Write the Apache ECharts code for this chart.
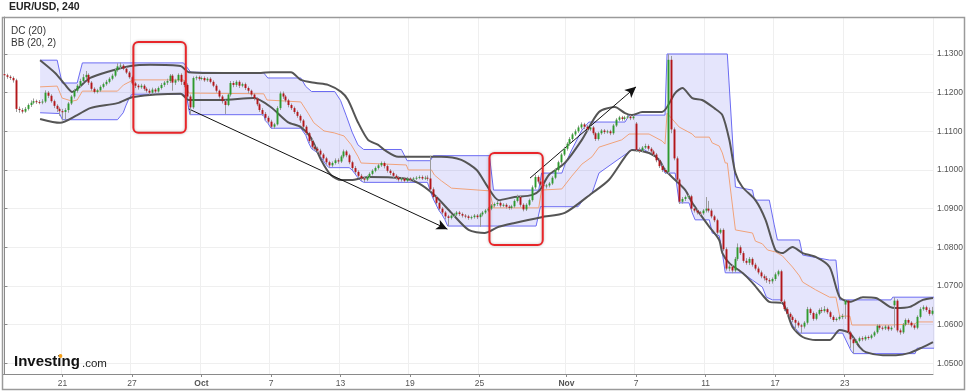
<!DOCTYPE html>
<html><head><meta charset="utf-8">
<script src="https://cdn.jsdelivr.net/npm/echarts@6/dist/echarts.min.js"></script>
<style>html,body{margin:0;padding:0;background:#fff}#c{width:966px;height:392px}</style>
</head><body><div id="c"></div><script>
// ---------- DATA ----------
const tradingDays = ['09-15','09-16','09-19','09-20','09-21','09-22','09-23','09-26','09-27','09-28','09-29','09-30',
 '10-03','10-04','10-05','10-06','10-07','10-10','10-11','10-12','10-13','10-14','10-17','10-18','10-19','10-20','10-21',
 '10-24','10-25','10-26','10-27','10-28','10-31','11-01','11-02','11-03','11-04','11-07','11-08','11-09','11-10','11-11',
 '11-14','11-15','11-16','11-17','11-18','11-21','11-22','11-23','11-24','11-25','11-28','11-29','11-30'];
const candleHours = ['00','04','08','12','16','20'];
const xTickCats = ['09-21 00','09-27 00','10-03 00','10-07 00','10-13 00','10-19 00','10-25 00','11-01 00','11-07 00','11-11 00','11-17 00','11-23 00'];
const xTickLabels = ['21','27','Oct','7','13','19','25','Nov','7','11','17','23'];
const yTickValues = [1.05,1.06,1.07,1.08,1.09,1.10,1.11,1.12,1.13];
const lastPrice = 1.0636;

// [open, close, low, high]
const ohlc = [
[1.1248,1.1245,1.1240,1.1252],[1.1245,1.1241,1.1236,1.1249],[1.1241,1.1238,1.1233,1.1245],[1.1238,1.1232,1.1226,1.1242],
[1.1232,1.1158,1.1150,1.1236],[1.1158,1.1155,1.1148,1.1164],[1.1155,1.1151,1.1146,1.1160],[1.1151,1.1158,1.1148,1.1163],
[1.1158,1.1168,1.1154,1.1172],[1.1168,1.1174,1.1163,1.1180],[1.1174,1.1178,1.1170,1.1185],[1.1178,1.1176,1.1171,1.1182],
[1.1176,1.1175,1.1170,1.1181],[1.1175,1.1177,1.1170,1.1183],[1.1177,1.1200,1.1173,1.1206],[1.1200,1.1192,1.1186,1.1204],
[1.1192,1.1178,1.1174,1.1196],[1.1178,1.1166,1.1160,1.1182],[1.1166,1.1158,1.1150,1.1170],[1.1158,1.1152,1.1140,1.1162],
[1.1152,1.1150,1.1128,1.1158],[1.1150,1.1155,1.1130,1.1160],[1.1155,1.1172,1.1148,1.1176],[1.1172,1.1190,1.1168,1.1194],
[1.1190,1.1205,1.1185,1.1210],[1.1205,1.1218,1.1200,1.1222],[1.1218,1.1230,1.1214,1.1236],[1.1230,1.1240,1.1226,1.1248],
[1.1240,1.1246,1.1235,1.1256],[1.1246,1.1226,1.1220,1.1250],[1.1226,1.1210,1.1205,1.1230],[1.1210,1.1202,1.1198,1.1214],
[1.1202,1.1206,1.1198,1.1210],[1.1206,1.1215,1.1202,1.1219],[1.1215,1.1222,1.1211,1.1226],[1.1222,1.1228,1.1218,1.1233],
[1.1228,1.1236,1.1224,1.1240],[1.1236,1.1244,1.1232,1.1249],[1.1244,1.1258,1.1240,1.1262],[1.1258,1.1268,1.1254,1.1276],
[1.1268,1.1270,1.1262,1.1278],[1.1270,1.1262,1.1258,1.1274],[1.1262,1.1252,1.1248,1.1266],[1.1252,1.1240,1.1236,1.1256],
[1.1240,1.1224,1.1220,1.1244],[1.1224,1.1218,1.1212,1.1228],[1.1218,1.1214,1.1208,1.1222],[1.1214,1.1218,1.1210,1.1223],
[1.1218,1.1210,1.1205,1.1222],[1.1210,1.1205,1.1200,1.1214],[1.1205,1.1200,1.1195,1.1210],[1.1200,1.1208,1.1196,1.1213],
[1.1208,1.1203,1.1198,1.1212],[1.1203,1.1212,1.1200,1.1216],[1.1212,1.1220,1.1208,1.1225],[1.1220,1.1226,1.1215,1.1230],
[1.1226,1.1230,1.1220,1.1236],[1.1230,1.1244,1.1225,1.1248],[1.1244,1.1226,1.1205,1.1248],[1.1226,1.1232,1.1220,1.1236],
[1.1232,1.1246,1.1228,1.1250],[1.1246,1.1228,1.1220,1.1250],[1.1228,1.1220,1.1214,1.1232],[1.1220,1.1190,1.1185,1.1224],
[1.1190,1.1162,1.1143,1.1195],[1.1162,1.1238,1.1158,1.1242],[1.1238,1.1240,1.1232,1.1244],[1.1240,1.1236,1.1231,1.1244],
[1.1236,1.1238,1.1232,1.1242],[1.1238,1.1232,1.1228,1.1242],[1.1232,1.1236,1.1228,1.1240],[1.1236,1.1228,1.1224,1.1240],
[1.1228,1.1218,1.1214,1.1232],[1.1218,1.1205,1.1200,1.1222],[1.1205,1.1190,1.1185,1.1208],[1.1190,1.1178,1.1172,1.1194],
[1.1178,1.1168,1.1145,1.1182],[1.1168,1.1195,1.1165,1.1198],[1.1195,1.1225,1.1190,1.1230],[1.1225,1.1220,1.1214,1.1230],
[1.1220,1.1228,1.1215,1.1232],[1.1228,1.1218,1.1212,1.1232],[1.1218,1.1222,1.1214,1.1226],[1.1222,1.1212,1.1207,1.1226],
[1.1212,1.1205,1.1198,1.1216],[1.1205,1.1195,1.1190,1.1208],[1.1195,1.1185,1.1180,1.1198],[1.1185,1.1170,1.1165,1.1188],
[1.1170,1.1155,1.1150,1.1174],[1.1155,1.1145,1.1140,1.1160],[1.1145,1.1135,1.1128,1.1150],[1.1135,1.1125,1.1120,1.1140],
[1.1125,1.1112,1.1108,1.1130],[1.1112,1.1118,1.1106,1.1122],[1.1118,1.1160,1.1115,1.1165],[1.1160,1.1198,1.1155,1.1203],
[1.1198,1.1190,1.1184,1.1203],[1.1190,1.1180,1.1175,1.1194],[1.1180,1.1168,1.1162,1.1184],[1.1168,1.1160,1.1155,1.1172],
[1.1160,1.1150,1.1145,1.1164],[1.1150,1.1140,1.1135,1.1154],[1.1140,1.1128,1.1122,1.1144],[1.1128,1.1112,1.1108,1.1132],
[1.1112,1.1095,1.1090,1.1116],[1.1095,1.1075,1.1070,1.1098],[1.1075,1.1060,1.1055,1.1080],[1.1060,1.1055,1.1050,1.1064],
[1.1055,1.1050,1.1045,1.1060],[1.1050,1.1040,1.1035,1.1055],[1.1040,1.1030,1.1025,1.1044],[1.1030,1.1020,1.1014,1.1034],
[1.1020,1.1012,1.1006,1.1024],[1.1012,1.1018,1.1008,1.1022],[1.1018,1.1025,1.1014,1.1030],[1.1025,1.1022,1.1016,1.1030],
[1.1022,1.1035,1.1018,1.1039],[1.1035,1.1048,1.1030,1.1053],[1.1048,1.1038,1.1033,1.1052],[1.1038,1.1020,1.1015,1.1042],
[1.1020,1.1005,1.1000,1.1024],[1.1005,1.0995,1.0990,1.1010],[1.0995,1.0985,1.0980,1.0999],[1.0985,1.0978,1.0972,1.0990],
[1.0978,1.0975,1.0968,1.0982],[1.0975,1.0982,1.0971,1.0986],[1.0982,1.0990,1.0978,1.0994],[1.0990,1.0998,1.0986,1.1002],
[1.0998,1.1005,1.0994,1.1009],[1.1005,1.1012,1.1001,1.1016],[1.1012,1.1018,1.1008,1.1022],[1.1018,1.1010,1.1004,1.1022],
[1.1010,1.0998,1.0993,1.1014],[1.0998,1.0992,1.0987,1.1002],[1.0992,1.0985,1.0980,1.0996],[1.0985,1.0980,1.0975,1.0989],
[1.0980,1.0975,1.0970,1.0984],[1.0975,1.0978,1.0970,1.0982],[1.0978,1.0972,1.0967,1.0982],[1.0972,1.0978,1.0968,1.0982],
[1.0978,1.0975,1.0970,1.0981],[1.0975,1.0978,1.0971,1.0982],[1.0978,1.0980,1.0974,1.0984],[1.0980,1.0982,1.0976,1.0986],
[1.0982,1.0978,1.0974,1.0986],[1.0978,1.0980,1.0974,1.0985],[1.0980,1.0978,1.0972,1.0986],[1.0978,1.0950,1.0945,1.1037],
[1.0950,1.0930,1.0925,1.0955],[1.0930,1.0915,1.0910,1.0934],[1.0915,1.0900,1.0895,1.0918],[1.0900,1.0890,1.0885,1.0904],
[1.0890,1.0880,1.0872,1.0894],[1.0880,1.0876,1.0855,1.0884],[1.0876,1.0882,1.0872,1.0886],[1.0882,1.0885,1.0878,1.0889],
[1.0885,1.0890,1.0881,1.0894],[1.0890,1.0886,1.0881,1.0894],[1.0886,1.0882,1.0877,1.0890],[1.0882,1.0880,1.0875,1.0886],
[1.0880,1.0876,1.0871,1.0884],[1.0876,1.0878,1.0872,1.0882],[1.0878,1.0882,1.0874,1.0886],[1.0882,1.0878,1.0873,1.0886],
[1.0878,1.0885,1.0853,1.0889],[1.0885,1.0890,1.0880,1.0894],[1.0890,1.0895,1.0886,1.0899],[1.0895,1.0900,1.0891,1.0904],
[1.0900,1.0908,1.0896,1.0912],[1.0908,1.0912,1.0903,1.0916],[1.0912,1.0915,1.0907,1.0920],[1.0915,1.0908,1.0903,1.0919],
[1.0908,1.0910,1.0904,1.0914],[1.0910,1.0905,1.0900,1.0914],[1.0905,1.0902,1.0897,1.0909],[1.0902,1.0906,1.0898,1.0910],
[1.0906,1.0920,1.0902,1.0924],[1.0920,1.0930,1.0916,1.0936],[1.0930,1.0910,1.0905,1.0934],[1.0910,1.0898,1.0893,1.0914],
[1.0898,1.0910,1.0894,1.0914],[1.0910,1.0922,1.0906,1.0926],[1.0922,1.0955,1.0918,1.0960],[1.0955,1.0982,1.0950,1.0988],
[1.0982,1.0970,1.0965,1.0986],[1.0970,1.0962,1.0957,1.0974],[1.0962,1.0958,1.0953,1.0966],[1.0958,1.0960,1.0952,1.0964],
[1.0960,1.0965,1.0955,1.0969],[1.0965,1.0980,1.0961,1.0984],[1.0980,1.1000,1.0976,1.1004],[1.1000,1.1020,1.0996,1.1024],
[1.1020,1.1040,1.1016,1.1044],[1.1040,1.1055,1.1036,1.1060],[1.1055,1.1068,1.1050,1.1072],[1.1068,1.1080,1.1063,1.1085],
[1.1080,1.1092,1.1076,1.1096],[1.1092,1.1100,1.1088,1.1105],[1.1100,1.1110,1.1096,1.1115],[1.1110,1.1118,1.1105,1.1123],
[1.1118,1.1112,1.1106,1.1122],[1.1112,1.1105,1.1100,1.1116],[1.1105,1.1110,1.1101,1.1114],[1.1110,1.1095,1.1090,1.1114],
[1.1095,1.1080,1.1075,1.1098],[1.1080,1.1095,1.1076,1.1099],[1.1095,1.1102,1.1091,1.1106],[1.1102,1.1098,1.1093,1.1106],
[1.1098,1.1100,1.1094,1.1104],[1.1100,1.1095,1.1090,1.1104],[1.1095,1.1115,1.1091,1.1119],[1.1115,1.1130,1.1111,1.1134],
[1.1130,1.1136,1.1126,1.1140],[1.1136,1.1132,1.1127,1.1140],[1.1132,1.1136,1.1128,1.1140],[1.1136,1.1138,1.1132,1.1142],
[1.1138,1.1134,1.1129,1.1142],[1.1134,1.1138,1.1130,1.1142],[1.1120,1.1052,1.1047,1.1124],[1.1052,1.1050,1.1044,1.1058],
[1.1050,1.1058,1.1046,1.1062],[1.1058,1.1062,1.1054,1.1068],[1.1062,1.1055,1.1050,1.1066],[1.1055,1.1048,1.1043,1.1059],
[1.1048,1.1040,1.1035,1.1052],[1.1040,1.1025,1.1020,1.1044],[1.1025,1.1010,1.1005,1.1029],[1.1010,1.1000,1.0995,1.1014],
[1.1000,1.0995,1.0990,1.1004],[1.0995,1.1285,1.0990,1.1300],[1.1285,1.1105,1.1095,1.1295],[1.1105,1.1030,1.1025,1.1110],
[1.1030,1.0975,1.0970,1.1035],[1.0975,1.0918,1.0912,1.0978],[1.0918,1.0925,1.0913,1.0930],[1.0925,1.0930,1.0920,1.0934],
[1.0930,1.0932,1.0925,1.0936],[1.0932,1.0900,1.0895,1.0936],[1.0900,1.0895,1.0890,1.0904],[1.0895,1.0890,1.0885,1.0899],
[1.0890,1.0888,1.0883,1.0894],[1.0888,1.0895,1.0884,1.0899],[1.0895,1.0900,1.0890,1.0930],[1.0900,1.0895,1.0890,1.0920],
[1.0895,1.0880,1.0875,1.0900],[1.0880,1.0870,1.0865,1.0884],[1.0870,1.0838,1.0833,1.0874],[1.0838,1.0845,1.0834,1.0849],
[1.0845,1.0795,1.0790,1.0849],[1.0795,1.0745,1.0740,1.0800],[1.0745,1.0750,1.0738,1.0756],[1.0750,1.0740,1.0733,1.0755],
[1.0740,1.0770,1.0735,1.0775],[1.0770,1.0800,1.0765,1.0810],[1.0800,1.0785,1.0780,1.0805],[1.0785,1.0765,1.0760,1.0790],
[1.0765,1.0760,1.0755,1.0772],[1.0760,1.0770,1.0754,1.0775],[1.0770,1.0755,1.0750,1.0774],[1.0755,1.0745,1.0740,1.0760],
[1.0745,1.0735,1.0730,1.0750],[1.0735,1.0725,1.0720,1.0740],[1.0725,1.0720,1.0714,1.0730],[1.0720,1.0715,1.0708,1.0726],
[1.0715,1.0712,1.0705,1.0720],[1.0712,1.0718,1.0706,1.0722],[1.0718,1.0730,1.0713,1.0735],[1.0730,1.0738,1.0725,1.0742],
[1.0738,1.0660,1.0655,1.0742],[1.0660,1.0640,1.0635,1.0665],[1.0640,1.0628,1.0623,1.0645],[1.0628,1.0620,1.0614,1.0632],
[1.0620,1.0612,1.0606,1.0624],[1.0612,1.0605,1.0585,1.0616],[1.0605,1.0598,1.0592,1.0610],[1.0598,1.0595,1.0578,1.0602],
[1.0595,1.0605,1.0590,1.0609],[1.0605,1.0640,1.0600,1.0646],[1.0640,1.0630,1.0625,1.0644],[1.0630,1.0615,1.0610,1.0634],
[1.0615,1.0628,1.0611,1.0632],[1.0628,1.0638,1.0624,1.0642],[1.0638,1.0635,1.0630,1.0645],[1.0635,1.0640,1.0631,1.0648],
[1.0640,1.0632,1.0627,1.0644],[1.0632,1.0620,1.0615,1.0636],[1.0620,1.0612,1.0607,1.0624],[1.0612,1.0615,1.0608,1.0619],
[1.0615,1.0620,1.0611,1.0624],[1.0620,1.0622,1.0614,1.0628],[1.0652,1.0662,1.0615,1.0665],[1.0662,1.0580,1.0575,1.0664],
[1.0580,1.0562,1.0540,1.0584],[1.0562,1.0552,1.0525,1.0566],[1.0552,1.0558,1.0548,1.0562],[1.0558,1.0565,1.0554,1.0569],
[1.0565,1.0562,1.0557,1.0570],[1.0562,1.0568,1.0558,1.0572],[1.0568,1.0566,1.0561,1.0572],[1.0566,1.0572,1.0562,1.0576],
[1.0572,1.0580,1.0568,1.0584],[1.0580,1.0597,1.0576,1.0601],[1.0597,1.0592,1.0587,1.0601],[1.0592,1.0590,1.0585,1.0596],
[1.0590,1.0595,1.0586,1.0599],[1.0595,1.0588,1.0583,1.0599],[1.0588,1.0592,1.0584,1.0596],[1.0650,1.0662,1.0592,1.0671],
[1.0662,1.0585,1.0580,1.0666],[1.0585,1.0580,1.0574,1.0590],[1.0580,1.0600,1.0576,1.0604],[1.0600,1.0612,1.0596,1.0616],
[1.0612,1.0605,1.0600,1.0616],[1.0605,1.0598,1.0593,1.0609],[1.0598,1.0592,1.0587,1.0602],[1.0592,1.0620,1.0588,1.0624],
[1.0620,1.0640,1.0616,1.0645],[1.0640,1.0645,1.0636,1.0650],[1.0645,1.0638,1.0633,1.0649],[1.0638,1.0628,1.0623,1.0644],
[1.0628,1.0636,1.0624,1.0646]
];

// indicator lines: [candle position, price]
const dcUpper = [[12.3,1.1284],[18.2,1.1284],[19.9,1.1225],[25.1,1.1225],[26.9,1.1277],[61.8,1.1277],[64.3,1.1253],[89.5,1.1251],[90.9,1.1238],[102.3,1.1238],[104,1.1216],[106,1.1203],[114,1.1203],[116,1.1180],[118,1.1140],[120,1.1098],[122,1.1065],[124,1.1053],[137,1.1053],[139,1.1024],[147,1.1024],[148,1.1037],[167.4,1.1037],[168.8,1.0948],[184.4,1.0948],[185.4,1.0992],[192.4,1.0992],[193.4,1.1013],[195.8,1.1052],[197.6,1.1078],[199.3,1.1103],[201.7,1.1124],[214.2,1.1124],[215.6,1.1142],[228.0,1.1142],[228.7,1.1300],[249.5,1.1300],[252.3,1.0956],[258.2,1.0948],[258.9,1.0922],[264,1.0922],[265.7,1.0858],[266.8,1.0819],[274.4,1.0819],[275.5,1.0780],[284.8,1.0767],[287,1.0767],[288.3,1.0664],[306,1.0664],[306.6,1.0671],[321,1.0671]];
const dcLower = [[12.3,1.1148],[19,1.1146],[20,1.1130],[39,1.1130],[41,1.1148],[42,1.1168],[43,1.1185],[44,1.1196],[61.8,1.1196],[63,1.1185],[64,1.1143],[89.5,1.1143],[90,1.1128],[91,1.1120],[92,1.1108],[102.3,1.1108],[104,1.1090],[105,1.1070],[106,1.1055],[108,1.1045],[109,1.1035],[110,1.1025],[111,1.1014],[112,1.1006],[119,1.1006],[120,1.1000],[121,1.0990],[122,1.0980],[123,1.0972],[124,1.0968],[146,1.0968],[147,1.0945],[148,1.0925],[149,1.0910],[150,1.0895],[151,1.0885],[152,1.0872],[153,1.0855],[183.5,1.0855],[185,1.0905],[198,1.0905],[200,1.0925],[202.8,1.0940],[205.2,1.0992],[213.1,1.1034],[216.6,1.1052],[221,1.1052],[222.5,1.1044],[224.6,1.1036],[226,1.1022],[227,1.1008],[228,1.0992],[231.5,1.0992],[232.9,1.0915],[236.3,1.0915],[237.4,1.0889],[238.4,1.0871],[243.3,1.0871],[244.3,1.0837],[246.7,1.0830],[247.8,1.0785],[248.8,1.0734],[254.7,1.0734],[258.2,1.0715],[261.6,1.0697],[263,1.0671],[265.1,1.0664],[267.9,1.0664],[268.5,1.0656],[272,1.0599],[274.4,1.0578],[289.3,1.0578],[292.1,1.0534],[293,1.0525],[314.3,1.0525],[315,1.0539],[321,1.0539]];
const midLine = [[12.3,1.1215],[18.2,1.1217],[19.9,1.1186],[23.4,1.1178],[25.1,1.1181],[26.9,1.1204],[39,1.1204],[41.1,1.1220],[44.5,1.1233],[61.8,1.1233],[63.6,1.1199],[89.5,1.1197],[90.6,1.1181],[102.3,1.1176],[104.8,1.1147],[106.8,1.1122],[110.3,1.1101],[113.8,1.1096],[117.2,1.1088],[119.7,1.1065],[122.1,1.1034],[123.1,1.1018],[138.7,1.1013],[139.4,1.1000],[147.4,1.1000],[148.4,1.0987],[150.8,1.0972],[154.3,1.0953],[167.4,1.0946],[168.8,1.0902],[184.4,1.0902],[185.4,1.0948],[192.4,1.0951],[195.8,1.0984],[199.3,1.1015],[202.8,1.1034],[205.2,1.1059],[213.1,1.1078],[215.6,1.1093],[222.5,1.1093],[227,1.1075],[228,1.1067],[228.7,1.1147],[232.9,1.1111],[237.4,1.1093],[238.4,1.1085],[243.3,1.1085],[244.3,1.1070],[246.7,1.1062],[247.8,1.1044],[248.8,1.1018],[249.5,1.1018],[252.3,1.0845],[258.2,1.0837],[259.2,1.0816],[261.6,1.0809],[263.4,1.0793],[266.1,1.0788],[268.5,1.0778],[272,1.0749],[274.4,1.0726],[275.5,1.0710],[280,1.0690],[284.8,1.0671],[287,1.0671],[288.3,1.0622],[291.8,1.0622],[292.5,1.0599],[306,1.0599],[306.6,1.0602],[314.3,1.0602],[315,1.0607],[320.5,1.0607]];
const bbUpper = [[12.3,1.1284],[17.5,1.1251],[21,1.1220],[23.4,1.1202],[25.5,1.1212],[29.6,1.1238],[36.6,1.1256],[43.5,1.1269],[50.4,1.1272],[60.8,1.1269],[63.6,1.1253],[71.2,1.1251],[88.5,1.1251],[91.9,1.1253],[98.9,1.1253],[102.3,1.1233],[107.5,1.1225],[111.7,1.1220],[116.2,1.1202],[118.6,1.1181],[122.1,1.1122],[125.5,1.1078],[129,1.1065],[131.1,1.1052],[135.9,1.1034],[150.8,1.1034],[157.7,1.1026],[163,1.1000],[166.4,1.0961],[170.6,1.0922],[176.1,1.0930],[182,1.0935],[184.8,1.0948],[187.9,1.0987],[193.4,1.1018],[199.3,1.1078],[205.2,1.1150],[210.7,1.1163],[214.2,1.1147],[216.6,1.1142],[220.1,1.1150],[227,1.1150],[231.5,1.1199],[234,1.1212],[237.4,1.1186],[240.8,1.1181],[245,1.1160],[247.8,1.1142],[250.2,1.1078],[252.3,1.0992],[254.7,1.0956],[259.2,1.0922],[262.7,1.0871],[266.1,1.0793],[268.5,1.0785],[272,1.0801],[275.5,1.0785],[280,1.0775],[284.8,1.0749],[288.3,1.0671],[291.8,1.0659],[296.3,1.0671],[300.8,1.0669],[305.6,1.0646],[307.7,1.0643],[312.5,1.0646],[317,1.0664],[320.5,1.0669]];
const bbLower = [[12.3,1.1132],[19.2,1.1122],[25.1,1.1142],[29.6,1.1160],[39,1.1173],[44.5,1.1189],[60.8,1.1197],[63.6,1.1181],[74.6,1.1181],[86.1,1.1186],[91.9,1.1163],[97.8,1.1124],[102.3,1.1111],[105.8,1.1083],[109.3,1.1026],[112.7,1.0987],[116.2,1.0974],[119.7,1.0974],[125.5,1.0982],[136.9,1.0979],[142.9,1.0966],[148.4,1.0935],[154.3,1.0889],[160.2,1.0845],[165.7,1.0837],[170.6,1.0853],[176.1,1.0863],[185.4,1.0878],[193.4,1.0889],[202.8,1.0940],[208.6,1.0974],[214.2,1.1034],[216.6,1.1052],[222.5,1.1044],[226,1.1026],[228,1.1000],[231.5,1.0974],[235,1.0948],[237.4,1.0915],[239.8,1.0889],[243.3,1.0853],[246.7,1.0819],[247.8,1.0785],[250.2,1.0759],[254.7,1.0734],[258.2,1.0708],[261.6,1.0677],[264,1.0659],[268.5,1.0656],[272,1.0594],[275.5,1.0568],[280,1.0560],[284.8,1.0560],[288.3,1.0586],[291.8,1.0578],[295.2,1.0542],[297.3,1.0529],[303.2,1.0521],[307.7,1.0521],[312.5,1.0527],[317,1.0542],[320.5,1.0555]];

// annotations (candle position / price)
const highlightBoxes = [[44.5,1.1331,62.6,1.1096],[167.4,1.1044,185.8,1.0806]];
const trendArrows = [[[63.6,1.1158],[152.9,1.0847]],[[181.4,1.0979],[218.0,1.1215]]];

// ---------- BUILD ----------
let categories = [];
tradingDays.forEach(d => candleHours.forEach(h => categories.push(d + ' ' + h)));
categories = categories.slice(4, 4 + ohlc.length);
const N = categories.length;
const candleData = ohlc.map((r, i) => [categories[i], r[0], r[1], r[2], r[3]]);
const FONT = 'Liberation Sans, Arial, sans-serif';

const chart = echarts.init(document.getElementById('c'), null, {renderer: 'canvas'});
const lineS = (name, data, color, width, z, smooth) => ({
  name, type: 'line', xAxisIndex: 1, yAxisIndex: 0, data, showSymbol: false, symbol: 'none',
  smooth: smooth || false, lineStyle: {color, width}, z, silent: true, animation: false
});

chart.setOption({
  animation: false,
  grid: {left: 3, right: 33, top: 17, bottom: 18, containLabel: false},
  xAxis: [{
    type: 'category', data: categories, boundaryGap: true,
    axisLine: {lineStyle: {color: '#8a8a8a', width: 1}},
    axisTick: {show: true, alignWithLabel: true, length: 3, interval: (i, v) => xTickCats.includes(v), lineStyle: {color: '#8a8a8a'}},
    axisLabel: {interval: (i, v) => xTickCats.includes(v), margin: 5, color: '#555', fontSize: 8.5, fontFamily: FONT,
      formatter: v => { const t = xTickLabels[xTickCats.indexOf(v)]; return (t === 'Oct' || t === 'Nov') ? '{b|' + t + '}' : t; },
      rich: {b: {fontWeight: 'bold', color: '#555', fontSize: 8.5, fontFamily: FONT}}},
    splitLine: {show: true, interval: (i, v) => xTickCats.includes(v), lineStyle: {color: '#efefef', width: 1}}
  }, {
    type: 'value', min: -0.5, max: N - 0.5, show: false
  }],
  yAxis: [{
    type: 'value', position: 'right', min: 1.04723, max: 1.13957, scale: true,
    axisLine: {show: true, lineStyle: {color: '#8a8a8a'}},
    axisTick: {show: true, length: 3, customValues: yTickValues, lineStyle: {color: '#8a8a8a'}},
    axisLabel: {customValues: yTickValues, formatter: v => v.toFixed(4), color: '#555', fontSize: 8.5, margin: 4, fontFamily: FONT},
    splitLine: {show: true, lineStyle: {color: '#efefef'}}
  }],
  series: [
    {
      type: 'custom', name: 'DC fill', xAxisIndex: 1, yAxisIndex: 0, z: 1, silent: true,
      data: [[0, 1.1]],
      renderItem: (params, api) => {
        const pts = dcUpper.map(p => api.coord(p));
        for (let k = dcLower.length - 1; k >= 0; k--) pts.push(api.coord(dcLower[k]));
        return {type: 'polygon', shape: {points: pts}, style: {fill: 'rgba(95,95,235,0.16)'}};
      }
    },
    lineS('DC upper', dcUpper, '#6b6bf2', 1, 2),
    Object.assign(lineS('DC lower', dcLower, '#6b6bf2', 1, 2), {
      markLine: {
        silent: true, symbol: ['none', 'none'],
        lineStyle: {opacity: 0},
        label: {show: true, position: 'end', distance: 0, formatter: lastPrice.toFixed(4), color: '#fff',
          backgroundColor: '#e3171d', padding: [2, 4, 1, 3], fontSize: 8.5, fontFamily: FONT},
        data: [{yAxis: lastPrice}]
      }
    }),
    lineS('DC mid', midLine, '#f0a27a', 1, 2),
    lineS('BB upper', bbUpper, '#555', 2, 3, 0.25),
    lineS('BB lower', bbLower, '#555', 2, 3, 0.25),
    {
      type: 'custom', name: 'EUR/USD', xAxisIndex: 0, yAxisIndex: 0, z: 5, silent: true,
      data: candleData, encode: {x: 0, y: [1, 2, 3, 4]},
      renderItem: (params, api) => {
        const idx = api.value(0);
        const o = api.value(1), c = api.value(2), l = api.value(3), h = api.value(4);
        const pO = api.coord([idx, o]), pC = api.coord([idx, c]);
        const pL = api.coord([idx, l]), pH = api.coord([idx, h]);
        const bw = Math.max(1.6, api.size([1, 0])[0] * 0.66);
        const x = Math.round(pO[0]) + 0.5;
        const top = Math.min(pO[1], pC[1]), bot = Math.max(pO[1], pC[1]);
        return {type: 'group', children: [
          {type: 'line', shape: {x1: x, y1: pH[1], x2: x, y2: pL[1]}, style: {stroke: '#9b9b9b', lineWidth: 1}},
          {type: 'rect', shape: {x: x - bw / 2, y: top, width: bw, height: Math.max(1, bot - top)},
            style: {fill: c >= o ? '#2e9a2e' : '#b3161a'}}
        ]};
      }
    },
    {
      type: 'custom', name: 'Boxes', xAxisIndex: 1, yAxisIndex: 0, z: 6, silent: true,
      data: highlightBoxes,
      renderItem: (params, api) => {
        const a = api.coord([api.value(0), api.value(1)]), b = api.coord([api.value(2), api.value(3)]);
        return {type: 'rect', shape: {x: a[0], y: a[1], width: b[0] - a[0], height: b[1] - a[1], r: 5},
          style: {fill: 'none', stroke: '#e8262a', lineWidth: 2, shadowBlur: 3, shadowColor: 'rgba(0,0,0,0.25)'}};
      }
    },
    {
      type: 'line', name: 'Arrows', xAxisIndex: 1, yAxisIndex: 0, data: [], z: 6, silent: true,
      markLine: {
        silent: true, symbol: ['none', 'arrow'], symbolSize: [8, 11],
        lineStyle: {color: '#111', width: 1, type: 'solid'}, label: {show: false},
        data: trendArrows.map(a => [{coord: a[0]}, {coord: a[1]}])
      }
    }
  ],
  graphic: [
    {type: 'rect', shape: {x: 2.5, y: 17.5, width: 962, height: 372}, style: {fill: 'none', stroke: '#9a9a9a', lineWidth: 1.5}, z: 100, silent: true},
    {type: 'text', x: 9, y: 2, style: {text: 'EUR/USD, 240', font: 'bold 10.5px ' + FONT, fill: '#222'}, z: 100},
    {type: 'text', x: 11, y: 26, style: {text: 'DC (20)', font: '10px ' + FONT, fill: '#333'}, z: 100},
    {type: 'text', x: 11, y: 38, style: {text: 'BB (20, 2)', font: '10px ' + FONT, fill: '#333'}, z: 100},
    {type: 'text', x: 14, y: 354, style: {text: 'Investing', font: 'bold 15px ' + FONT, fill: '#111'}, z: 100},
    {type: 'text', x: 82, y: 358, style: {text: '.com', font: '11.5px ' + FONT, fill: '#222'}, z: 100},
    {type: 'circle', shape: {cx: 60.5, cy: 356, r: 1.9}, style: {fill: '#f5a01a'}, z: 101}
  ]
});
</script></body></html>
